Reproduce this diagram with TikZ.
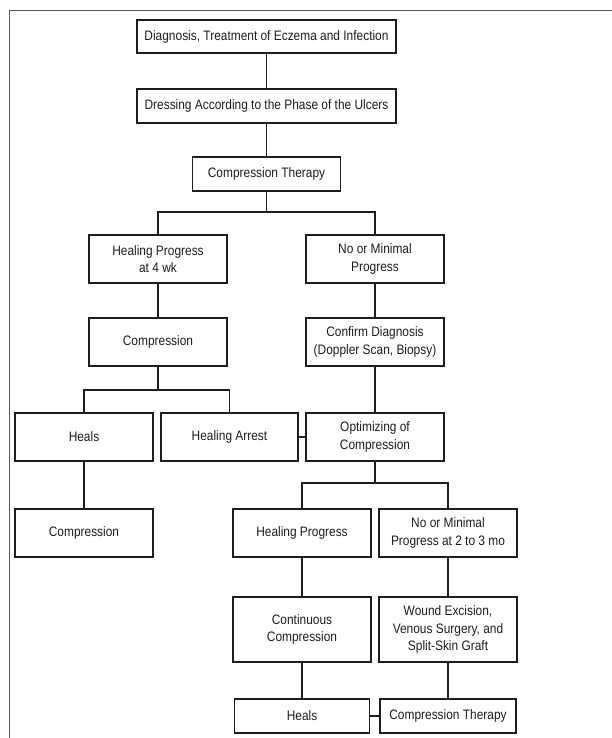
\documentclass[tikz,border=0pt]{standalone}
\usepackage{fontspec}
\setmainfont[FakeStretch=0.87]{Liberation Sans}
\definecolor{ink}{HTML}{1E1E1E}
\definecolor{framec}{HTML}{5A5A5A}
\begin{document}
\begin{tikzpicture}[x=1pt,y=-1pt,
  box/.style={draw=ink, line width=1.1pt, rectangle, align=center, inner sep=0pt,
    text=ink, font=\fontsize{13.7}{17.3}\selectfont, minimum width=138pt, minimum height=48pt},
  conn/.style={draw=ink, line width=1.1pt}]
\useasboundingbox (0,0) rectangle (612,738);
\fill[white] (0,0) rectangle (612,738);
\draw[framec, line width=1.4pt] (9.5,738) -- (9.5,10.5) -- (612,10.5);

\node[box, minimum width=259pt, minimum height=33pt] (b1) at (266.5,36.5) {Diagnosis, Treatment of Eczema and Infection};
\node[box, minimum width=259pt, minimum height=34pt] (b2) at (266.5,106) {Dressing According to the Phase of the Ulcers};
\node[box, minimum width=148pt, minimum height=34pt] (b3) at (266.5,174) {Compression Therapy};
\node[box] (b4) at (158,259) {Healing Progress\\at 4 wk};
\node[box] (b5) at (375,259) {No or Minimal\\Progress};
\node[box] (b6) at (158,342) {Compression};
\node[box] (b7) at (375,342) {Confirm Diagnosis\\(Doppler Scan, Biopsy)};
\node[box] (b8) at (84,437) {Heals};
\node[box, minimum width=137pt] (b9) at (229.5,437) {Healing Arrest};
\node[box] (b10) at (375,437) {Optimizing of\\Compression};
\node[box] (b11) at (84,533) {Compression};
\node[box] (b12) at (302,533) {Healing Progress};
\node[box] (b13) at (448,533) {No or Minimal\\Progress at 2 to 3 mo};
\node[box, minimum height=65pt] (b14) at (302,629.5) {Continuous\\Compression};
\node[box, minimum height=65pt] (b15) at (448,629.5) {Wound Excision,\\Venous Surgery, and\\Split-Skin Graft};
\node[box, minimum width=135pt, minimum height=34pt] (b16) at (302,716) {Heals};
\node[box, minimum width=136pt, minimum height=34pt] (b17) at (448,716) {Compression Therapy};

\coordinate (s1) at (266.5,212);
\coordinate (s2) at (158,390);
\coordinate (s3) at (375,483);

\draw[conn] (b1) -- (b2);
\draw[conn] (b2) -- (b3);
\draw[conn] (b3.south) -- (s1);
\draw[conn] (b4.north) |- (s1) -| (b5.north);
\draw[conn] (b4) -- (b6);
\draw[conn] (b5) -- (b7);
\draw[conn] (b6.south) -- (s2);
\draw[conn] (b8.north) |- (s2) -| (b9.north);
\draw[conn] (b7) -- (b10);
\draw[conn] (b9) -- (b10);
\draw[conn] (b8) -- (b11);
\draw[conn] (b10.south) -- (s3);
\draw[conn] (b12.north) |- (s3) -| (b13.north);
\draw[conn] (b12) -- (b14);
\draw[conn] (b13) -- (b15);
\draw[conn] (b14.south) -- (b14.south |- b16.north);
\draw[conn] (b15) -- (b17);
\draw[conn] (b16) -- (b17);
\end{tikzpicture}
\end{document}
